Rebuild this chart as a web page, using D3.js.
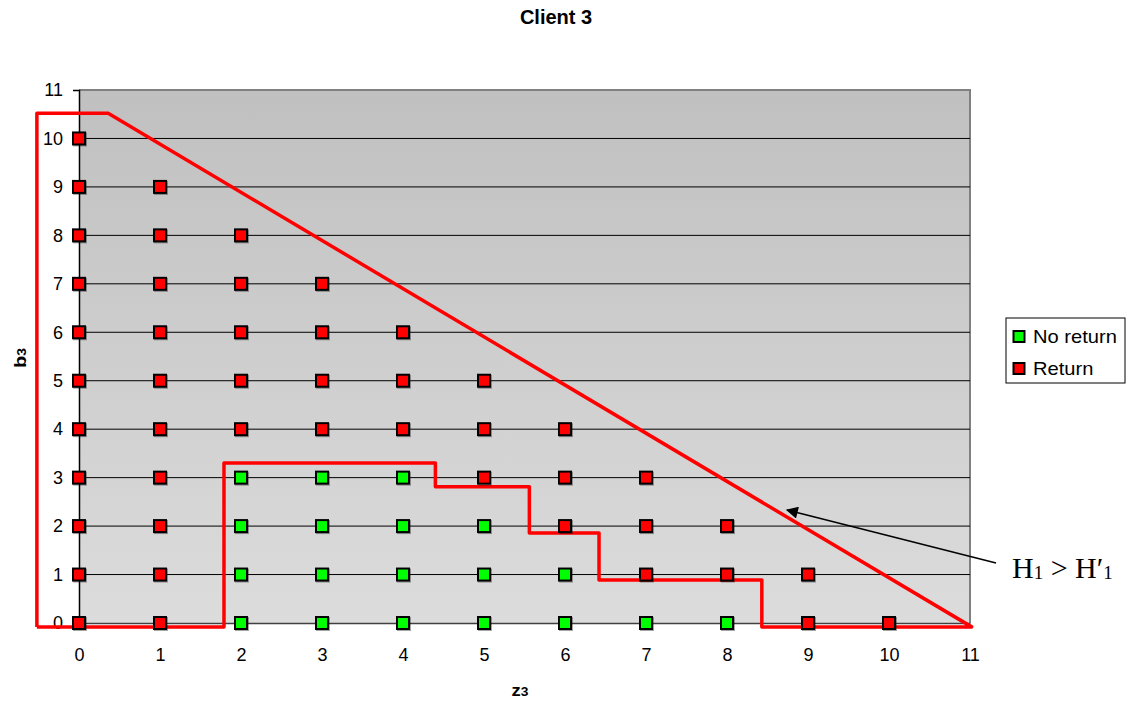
<!DOCTYPE html>
<html>
<head>
<meta charset="utf-8">
<script src="https://cdn.jsdelivr.net/npm/d3@7"></script>
<style>
  body { margin: 0; background: #fff; }
</style>
</head>
<body>
<div id="chart"></div>
<script>
// grid of (z, b) outcomes; "no return" cells, everything else with z + b <= 10 is "return"
const noReturn = [
  [2, 0], [3, 0], [4, 0], [5, 0], [6, 0], [7, 0], [8, 0],
  [2, 1], [3, 1], [4, 1], [5, 1], [6, 1],
  [2, 2], [3, 2], [4, 2], [5, 2],
  [2, 3], [3, 3], [4, 3]
];
const returnPts = [
  [0, 0], [1, 0], [9, 0], [10, 0],
  [0, 1], [1, 1], [7, 1], [8, 1], [9, 1],
  [0, 2], [1, 2], [6, 2], [7, 2], [8, 2],
  [0, 3], [1, 3], [5, 3], [6, 3], [7, 3],
  [0, 4], [1, 4], [2, 4], [3, 4], [4, 4], [5, 4], [6, 4],
  [0, 5], [1, 5], [2, 5], [3, 5], [4, 5], [5, 5],
  [0, 6], [1, 6], [2, 6], [3, 6], [4, 6],
  [0, 7], [1, 7], [2, 7], [3, 7],
  [0, 8], [1, 8], [2, 8],
  [0, 9], [1, 9],
  [0, 10]
];
// hand drawn red region (outer triangle with staircase cut out)
const regionOutline = [
  [-0.52, -0.08], [-0.52, 10.52], [0.36, 10.52], [11.02, -0.08],
  [8.43, -0.08], [8.43, 0.89], [6.42, 0.89], [6.42, 1.86],
  [5.56, 1.86], [5.56, 2.81], [4.4, 2.81], [4.4, 3.3],
  [1.79, 3.3], [1.79, -0.08], [-0.52, -0.08]
];
const ticks = d3.range(0, 12);
const legendItems = [["No return", "#00ff00"], ["Return", "#ff0000"]];

const W = 1127, H = 702;
const m = { left: 79, right: 970, top: 90, bottom: 623 };
const sans = "Arial, 'Liberation Sans', sans-serif";

const svg = d3.select("#chart").append("svg")
  .attr("width", W).attr("height", H)
  .attr("font-family", sans);

const x = d3.scaleLinear().domain([0, 11]).range([m.left, m.right]);
const y = d3.scaleLinear().domain([0, 11]).range([m.bottom, m.top]);

const defs = svg.append("defs");
const grad = defs.append("linearGradient").attr("id", "bg")
  .attr("x1", 0).attr("y1", 0).attr("x2", 0).attr("y2", 1);
grad.append("stop").attr("offset", 0).attr("stop-color", "#c0c0c0");
grad.append("stop").attr("offset", 1).attr("stop-color", "#dcdcdc");
defs.append("marker").attr("id", "arrow")
  .attr("viewBox", "0 0 10 10").attr("refX", 9).attr("refY", 5)
  .attr("markerWidth", 16).attr("markerHeight", 12).attr("markerUnits", "userSpaceOnUse")
  .attr("orient", "auto-start-reverse")
  .append("path").attr("d", "M0,0 L10,5 L0,10 z").attr("fill", "#000");
defs.append("filter").attr("id", "shadow")
  .attr("x", "-30%").attr("y", "-30%").attr("width", "160%").attr("height", "160%")
  .append("feDropShadow").attr("dx", 1).attr("dy", 1).attr("stdDeviation", 0.6)
  .attr("flood-color", "#000").attr("flood-opacity", 0.35);

// plot background
svg.append("rect")
  .attr("x", m.left).attr("y", m.top)
  .attr("width", m.right - m.left).attr("height", m.bottom - m.top)
  .attr("fill", "url(#bg)");
svg.append("path")
  .attr("d", `M${m.left},${m.top} H${m.right} V${m.bottom}`)
  .attr("fill", "none").attr("stroke", "#808080").attr("stroke-width", 2);

// gridlines
svg.append("g").selectAll("line").data(ticks.slice(1, 11)).join("line")
  .attr("x1", m.left).attr("x2", m.right)
  .attr("y1", d => y(d)).attr("y2", d => y(d))
  .attr("stroke", "#000").attr("stroke-width", 1);

// axes
const yAxis = svg.append("g").attr("transform", `translate(${m.left},0)`)
  .call(d3.axisLeft(y).tickValues(ticks).tickSize(6).tickPadding(10));
const xAxis = svg.append("g").attr("transform", `translate(0,${m.bottom})`)
  .call(d3.axisBottom(x).tickValues(ticks).tickSize(0).tickPadding(25));
[yAxis, xAxis].forEach(a => {
  a.attr("font-family", sans).attr("font-size", 18);
  a.select(".domain").attr("stroke", "#000").attr("stroke-width", 1.5);
  a.selectAll("text").attr("fill", "#000");
  a.selectAll("line").attr("stroke", "#000");
});
xAxis.select(".domain").attr("stroke", "#404040");

// red region
svg.append("path")
  .attr("d", d3.line().x(d => x(d[0])).y(d => y(d[1]))(regionOutline))
  .attr("fill", "none").attr("stroke", "#ff0000").attr("stroke-width", 3.5)
  .attr("stroke-linejoin", "round");

// markers
const drawPts = (data, color) => svg.append("g").attr("filter", "url(#shadow)")
  .selectAll("rect").data(data).join("rect")
  .attr("x", d => x(d[0]) - 6).attr("y", d => y(d[1]) - 6)
  .attr("width", 12).attr("height", 12)
  .attr("fill", color).attr("stroke", "#000").attr("stroke-width", 2);
drawPts(noReturn, "#00ff00");
drawPts(returnPts, "#ff0000");

// annotation arrow
svg.append("line")
  .attr("x1", 996).attr("y1", 563).attr("x2", 787).attr("y2", 510)
  .attr("stroke", "#000").attr("stroke-width", 1.5)
  .attr("marker-end", "url(#arrow)");
const ann = svg.append("text")
  .attr("x", 1012).attr("y", 578)
  .attr("font-family", "'Liberation Serif', 'Times New Roman', serif")
  .attr("font-size", 30).attr("fill", "#000");
ann.append("tspan").text("H");
ann.append("tspan").attr("font-size", 19).attr("dy", 1).text("1");
ann.append("tspan").attr("dy", -1).text(" > H\u2032");
ann.append("tspan").attr("font-size", 19).attr("dy", 1).text("1");

// titles
svg.append("text").attr("x", 556).attr("y", 24).attr("text-anchor", "middle")
  .attr("font-size", 20).attr("font-weight", "bold").text("Client 3");
const xt = svg.append("text").attr("transform", "translate(520,696) scale(1.15,1)")
  .attr("text-anchor", "middle").attr("font-size", 16).attr("font-weight", "bold");
xt.append("tspan").text("z");
xt.append("tspan").attr("font-size", 12).text("3");
const yt = svg.append("text").attr("transform", "translate(26,358) rotate(-90) scale(1.15,1)")
  .attr("text-anchor", "middle").attr("font-size", 17).attr("font-weight", "bold");
yt.append("tspan").text("b");
yt.append("tspan").attr("font-size", 12).text("3");

// legend
const legend = svg.append("g").attr("transform", "translate(1006,318)");
legend.append("rect").attr("width", 119).attr("height", 65)
  .attr("fill", "#fff").attr("stroke", "#000").attr("stroke-width", 1);
legend.selectAll("g.item").data(legendItems).join("g").attr("class", "item")
  .attr("transform", (d, i) => `translate(0,${18.5 + i * 32})`)
  .each(function(d) {
    const g = d3.select(this);
    g.append("rect").attr("x", 7.5).attr("y", -5.5).attr("width", 11).attr("height", 11)
      .attr("fill", d[1]).attr("stroke", "#000").attr("stroke-width", 2);
    g.append("text").attr("transform", "translate(27,6.5) scale(1.15,1)")
      .attr("font-size", 17.5).text(d[0]);
  });
</script>
</body>
</html>
